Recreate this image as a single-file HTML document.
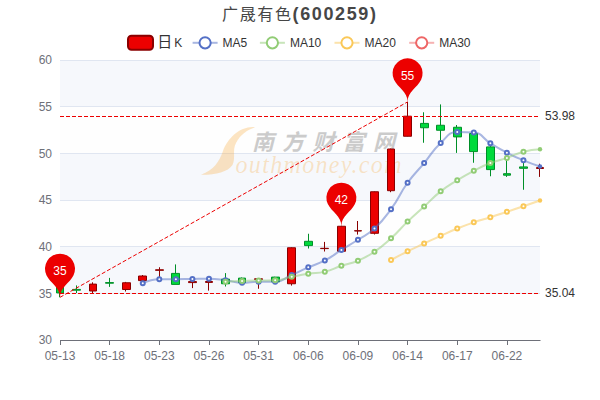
<!DOCTYPE html>
<html lang="zh"><head><meta charset="utf-8"><title>广晟有色(600259)</title>
<style>html,body{margin:0;padding:0;background:#fff}body{width:600px;height:400px;overflow:hidden;font-family:"Liberation Sans","Noto Sans CJK SC",sans-serif}svg{display:block}.t{font-family:"Liberation Sans","Noto Sans CJK SC",sans-serif}</style>
</head><body>
<svg width="600" height="400" viewBox="0 0 600 400">
<rect width="600" height="400" fill="#fff"/>
<g id="splitarea">
<rect x="60" y="293.33" width="480" height="46.67" fill="rgba(250,250,250,0.2)"/>
<rect x="60" y="246.67" width="480" height="46.67" fill="rgba(210,219,238,0.2)"/>
<rect x="60" y="200" width="480" height="46.67" fill="rgba(250,250,250,0.2)"/>
<rect x="60" y="153.33" width="480" height="46.67" fill="rgba(210,219,238,0.2)"/>
<rect x="60" y="106.67" width="480" height="46.67" fill="rgba(250,250,250,0.2)"/>
<rect x="60" y="60" width="480" height="46.67" fill="rgba(210,219,238,0.2)"/>
</g>
<g id="splitlines" stroke="#E0E6F1" stroke-width="1">
<line x1="60" y1="340.5" x2="540" y2="340.5"/>
<line x1="60" y1="293.5" x2="540" y2="293.5"/>
<line x1="60" y1="246.5" x2="540" y2="246.5"/>
<line x1="60" y1="200.5" x2="540" y2="200.5"/>
<line x1="60" y1="153.5" x2="540" y2="153.5"/>
<line x1="60" y1="106.5" x2="540" y2="106.5"/>
<line x1="60" y1="60.5" x2="540" y2="60.5"/>
</g>
<g id="watermark">
<path d="M255 127.2C240 126 228 138 223 151C219 162 214 170 201 174.8C215 175 228 172 232.5 165C236 158 232 150 236 143C240 135 247 130 255 127.2Z" fill="#f7a839" fill-opacity="0.3"/>
<g opacity="0.5"><text class="t" x="252" y="150" font-size="22" font-style="italic" font-weight="bold" textLength="143" lengthAdjust="spacing" fill="#9a9a9a">南方财富网</text></g>
<text transform="translate(235.5 172.6) scale(1 1.05)" x="0" y="0" font-family="Liberation Serif, serif" font-style="italic" font-size="24" textLength="166" lengthAdjust="spacing" fill="#f7a839" fill-opacity="0.28">outhmoney.com</text>
</g>
<g id="xaxis" stroke="#6E7079" stroke-width="1">
<line x1="60" y1="340.5" x2="540.5" y2="340.5"/>
<line x1="60.5" y1="340" x2="60.5" y2="345"/>
<line x1="109.5" y1="340" x2="109.5" y2="345"/>
<line x1="159.5" y1="340" x2="159.5" y2="345"/>
<line x1="209.5" y1="340" x2="209.5" y2="345"/>
<line x1="258.5" y1="340" x2="258.5" y2="345"/>
<line x1="308.5" y1="340" x2="308.5" y2="345"/>
<line x1="358.5" y1="340" x2="358.5" y2="345"/>
<line x1="407.5" y1="340" x2="407.5" y2="345"/>
<line x1="457.5" y1="340" x2="457.5" y2="345"/>
<line x1="507.5" y1="340" x2="507.5" y2="345"/>
</g>
<g id="xlabels" fill="#6E7079">
<text class="t" x="60" y="360" font-size="12" text-anchor="middle">05-13</text>
<text class="t" x="109.66" y="360" font-size="12" text-anchor="middle">05-18</text>
<text class="t" x="159.31" y="360" font-size="12" text-anchor="middle">05-23</text>
<text class="t" x="208.97" y="360" font-size="12" text-anchor="middle">05-26</text>
<text class="t" x="258.62" y="360" font-size="12" text-anchor="middle">05-31</text>
<text class="t" x="308.28" y="360" font-size="12" text-anchor="middle">06-06</text>
<text class="t" x="357.93" y="360" font-size="12" text-anchor="middle">06-09</text>
<text class="t" x="407.59" y="360" font-size="12" text-anchor="middle">06-14</text>
<text class="t" x="457.24" y="360" font-size="12" text-anchor="middle">06-17</text>
<text class="t" x="506.9" y="360" font-size="12" text-anchor="middle">06-22</text>
</g>
<g id="ylabels" fill="#6E7079">
<text class="t" x="52" y="344.2" font-size="12" text-anchor="end">30</text>
<text class="t" x="52" y="297.53" font-size="12" text-anchor="end">35</text>
<text class="t" x="52" y="250.87" font-size="12" text-anchor="end">40</text>
<text class="t" x="52" y="204.2" font-size="12" text-anchor="end">45</text>
<text class="t" x="52" y="157.53" font-size="12" text-anchor="end">50</text>
<text class="t" x="52" y="110.87" font-size="12" text-anchor="end">55</text>
<text class="t" x="52" y="64.2" font-size="12" text-anchor="end">60</text>
</g>
<g id="candles" stroke-width="1">
<path d="M56.5 286.3 L63.5 286.3 L63.5 292.96 L56.5 292.96 ZM59.5 285 L59.5 286.3 M59.5 292.96 L59.5 297.3" fill="#00da3c" stroke="#008f28"/>
<path d="M72.5 289.4 L80.5 289.4 L80.5 290.2 L72.5 290.2 ZM76.5 285.4 L76.5 289.4 M76.5 290.2 L76.5 293" fill="#00da3c" stroke="#008f28"/>
<path d="M89.5 284.1 L96.5 284.1 L96.5 291 L89.5 291 ZM92.5 282.3 L92.5 284.1 M92.5 291 L92.5 293.1" fill="#ec0000" stroke="#8a0000"/>
<path d="M105.5 282.6 L113.5 282.6 L113.5 283.2 L105.5 283.2 ZM109.5 277.9 L109.5 282.6 M109.5 283.2 L109.5 286.9" fill="#00da3c" stroke="#008f28"/>
<path d="M122.5 282.75 L130.5 282.75 L130.5 289.5 L122.5 289.5 ZM125.5 281.9 L125.5 282.75 M125.5 289.5 L125.5 291.5" fill="#ec0000" stroke="#8a0000"/>
<path d="M138.5 276 L146.5 276 L146.5 280.6 L138.5 280.6 ZM142.5 275 L142.5 276 M142.5 280.6 L142.5 280.6" fill="#ec0000" stroke="#8a0000"/>
<path d="M155.5 269.8 L163.5 269.8 L163.5 270.3 L155.5 270.3 ZM159.5 267.25 L159.5 269.8 M159.5 270.3 L159.5 277" fill="#ec0000" stroke="#8a0000"/>
<path d="M171.5 273.4 L179.5 273.4 L179.5 284.4 L171.5 284.4 ZM175.5 264.4 L175.5 273.4 M175.5 284.4 L175.5 284.4" fill="#00da3c" stroke="#008f28"/>
<path d="M188.5 281.6 L196.5 281.6 L196.5 282.6 L188.5 282.6 ZM192.5 279 L192.5 281.6 M192.5 282.6 L192.5 288.1" fill="#ec0000" stroke="#8a0000"/>
<path d="M205.5 281.5 L212.5 281.5 L212.5 282.4 L205.5 282.4 ZM208.5 279.5 L208.5 281.5 M208.5 282.4 L208.5 290.6" fill="#ec0000" stroke="#8a0000"/>
<path d="M221.5 279.1 L229.5 279.1 L229.5 283.75 L221.5 283.75 ZM225.5 273.1 L225.5 279.1 M225.5 283.75 L225.5 286.5" fill="#00da3c" stroke="#008f28"/>
<path d="M238.5 278.1 L245.5 278.1 L245.5 282.75 L238.5 282.75 ZM241.5 277.5 L241.5 278.1 M241.5 282.75 L241.5 283.2" fill="#00da3c" stroke="#008f28"/>
<path d="M254.5 278.8 L262.5 278.8 L262.5 279.4 L254.5 279.4 ZM258.5 278 L258.5 278.8 M258.5 279.4 L258.5 288.75" fill="#ec0000" stroke="#8a0000"/>
<path d="M271.5 277.1 L279.5 277.1 L279.5 281.9 L271.5 281.9 ZM274.5 276.8 L274.5 277.1 M274.5 281.9 L274.5 282.3" fill="#00da3c" stroke="#008f28"/>
<path d="M287.5 247.75 L295.5 247.75 L295.5 283.75 L287.5 283.75 ZM291.5 247.3 L291.5 247.75 M291.5 283.75 L291.5 285.6" fill="#ec0000" stroke="#8a0000"/>
<path d="M304.5 241.3 L312.5 241.3 L312.5 245.6 L304.5 245.6 ZM308.5 233.75 L308.5 241.3 M308.5 245.6 L308.5 248.5" fill="#00da3c" stroke="#008f28"/>
<path d="M320.5 248.3 L328.5 248.3 L328.5 248.6 L320.5 248.6 ZM324.5 241.9 L324.5 248.3 M324.5 248.6 L324.5 251.5" fill="#ec0000" stroke="#8a0000"/>
<path d="M337.5 226.25 L345.5 226.25 L345.5 251.25 L337.5 251.25 ZM341.5 225.8 L341.5 226.25 M341.5 251.25 L341.5 251.6" fill="#ec0000" stroke="#8a0000"/>
<path d="M354.5 230.7 L361.5 230.7 L361.5 231 L354.5 231 ZM357.5 221 L357.5 230.7 M357.5 231 L357.5 234.6" fill="#ec0000" stroke="#8a0000"/>
<path d="M370.5 191.75 L378.5 191.75 L378.5 233.3 L370.5 233.3 ZM374.5 191.4 L374.5 191.75 M374.5 233.3 L374.5 234.5" fill="#ec0000" stroke="#8a0000"/>
<path d="M387.5 149 L394.5 149 L394.5 190.7 L387.5 190.7 ZM390.5 148.6 L390.5 149 M390.5 190.7 L390.5 192.2" fill="#ec0000" stroke="#8a0000"/>
<path d="M403.5 116.2 L411.5 116.2 L411.5 136.25 L403.5 136.25 ZM407.5 101.9 L407.5 116.2 M407.5 136.25 L407.5 136.5" fill="#ec0000" stroke="#8a0000"/>
<path d="M420.5 123.4 L428.5 123.4 L428.5 127.75 L420.5 127.75 ZM423.5 112.25 L423.5 123.4 M423.5 127.75 L423.5 142.75" fill="#00da3c" stroke="#008f28"/>
<path d="M436.5 125.25 L444.5 125.25 L444.5 130.25 L436.5 130.25 ZM440.5 104.4 L440.5 125.25 M440.5 130.25 L440.5 140.5" fill="#00da3c" stroke="#008f28"/>
<path d="M453.5 127.25 L461.5 127.25 L461.5 136.9 L453.5 136.9 ZM456.5 125 L456.5 127.25 M456.5 136.9 L456.5 152.9" fill="#00da3c" stroke="#008f28"/>
<path d="M469.5 133.5 L477.5 133.5 L477.5 151.6 L469.5 151.6 ZM473.5 131 L473.5 133.5 M473.5 151.6 L473.5 162.75" fill="#00da3c" stroke="#008f28"/>
<path d="M486.5 146.9 L494.5 146.9 L494.5 169.6 L486.5 169.6 ZM490.5 144 L490.5 146.9 M490.5 169.6 L490.5 176.25" fill="#00da3c" stroke="#008f28"/>
<path d="M503.5 173.7 L510.5 173.7 L510.5 175.2 L503.5 175.2 ZM506.5 159.5 L506.5 173.7 M506.5 175.2 L506.5 176.9" fill="#00da3c" stroke="#008f28"/>
<path d="M519.5 166.9 L527.5 166.9 L527.5 168.3 L519.5 168.3 ZM523.5 161.5 L523.5 166.9 M523.5 168.3 L523.5 189.75" fill="#00da3c" stroke="#008f28"/>
<path d="M536.5 167.6 L543.5 167.6 L543.5 168.5 L536.5 168.5 ZM539.5 163.75 L539.5 167.6 M539.5 168.5 L539.5 176.9" fill="#ec0000" stroke="#8a0000"/>
</g>
<g id="ma5">
<path d="M142.76 283.25C142.76 283.25 150.91 279.17 159.31 279.17C167.46 279.17 167.59 279.23 175.86 279.23C184.14 279.23 184.14 279.05 192.41 278.91C200.69 278.77 200.71 278.66 208.97 278.66C217.26 278.66 217.27 279.18 225.52 280.21C233.83 281.25 233.75 282.8 242.07 282.8C250.3 282.8 250.34 281.68 258.62 281.68C266.89 281.68 267.21 281.74 275.17 281.74C283.77 281.74 283.53 278.55 291.72 274.99C300.08 271.36 299.93 271.02 308.28 267.36C316.48 263.76 316.92 264.63 324.83 260.47C333.47 255.93 333.07 255.17 341.38 249.96C349.62 244.79 349.76 245.01 357.93 239.72C366.32 234.29 367.2 235.23 374.48 228.52C383.75 219.97 383.6 219.48 391.03 209.2C400.15 196.61 398.52 195.41 407.59 182.78C415.07 172.35 415.91 172.97 424.14 163.08C432.46 153.07 431.3 151.8 440.69 142.99C447.85 136.27 448.22 132.02 457.24 132.02C464.77 132.02 466.23 132.02 473.79 132.54C482.79 133.16 481.94 138.1 490.34 143.22C498.49 148.18 498.43 148.34 506.9 152.71C514.98 156.89 515.04 156.83 523.45 160.32C531.59 163.7 540 166.46 540 166.46" fill="none" stroke="#5470c6" stroke-width="2" stroke-opacity="0.5" stroke-linejoin="bevel"/>
<circle cx="142.76" cy="283.25" r="2" fill="#fff" stroke="#5470c6" stroke-width="2"/>
<circle cx="159.31" cy="279.17" r="2" fill="#fff" stroke="#5470c6" stroke-width="2"/>
<circle cx="175.86" cy="279.23" r="2" fill="#fff" stroke="#5470c6" stroke-width="2"/>
<circle cx="192.41" cy="278.91" r="2" fill="#fff" stroke="#5470c6" stroke-width="2"/>
<circle cx="208.97" cy="278.66" r="2" fill="#fff" stroke="#5470c6" stroke-width="2"/>
<circle cx="225.52" cy="280.21" r="2" fill="#fff" stroke="#5470c6" stroke-width="2"/>
<circle cx="242.07" cy="282.8" r="2" fill="#fff" stroke="#5470c6" stroke-width="2"/>
<circle cx="258.62" cy="281.68" r="2" fill="#fff" stroke="#5470c6" stroke-width="2"/>
<circle cx="275.17" cy="281.74" r="2" fill="#fff" stroke="#5470c6" stroke-width="2"/>
<circle cx="291.72" cy="274.99" r="2" fill="#fff" stroke="#5470c6" stroke-width="2"/>
<circle cx="308.28" cy="267.36" r="2" fill="#fff" stroke="#5470c6" stroke-width="2"/>
<circle cx="324.83" cy="260.47" r="2" fill="#fff" stroke="#5470c6" stroke-width="2"/>
<circle cx="341.38" cy="249.96" r="2" fill="#fff" stroke="#5470c6" stroke-width="2"/>
<circle cx="357.93" cy="239.72" r="2" fill="#fff" stroke="#5470c6" stroke-width="2"/>
<circle cx="374.48" cy="228.52" r="2" fill="#fff" stroke="#5470c6" stroke-width="2"/>
<circle cx="391.03" cy="209.2" r="2" fill="#fff" stroke="#5470c6" stroke-width="2"/>
<circle cx="407.59" cy="182.78" r="2" fill="#fff" stroke="#5470c6" stroke-width="2"/>
<circle cx="424.14" cy="163.08" r="2" fill="#fff" stroke="#5470c6" stroke-width="2"/>
<circle cx="440.69" cy="142.99" r="2" fill="#fff" stroke="#5470c6" stroke-width="2"/>
<circle cx="457.24" cy="132.02" r="2" fill="#fff" stroke="#5470c6" stroke-width="2"/>
<circle cx="473.79" cy="132.54" r="2" fill="#fff" stroke="#5470c6" stroke-width="2"/>
<circle cx="490.34" cy="143.22" r="2" fill="#fff" stroke="#5470c6" stroke-width="2"/>
<circle cx="506.9" cy="152.71" r="2" fill="#fff" stroke="#5470c6" stroke-width="2"/>
<circle cx="523.45" cy="160.32" r="2" fill="#fff" stroke="#5470c6" stroke-width="2"/>
<circle cx="540" cy="166.46" r="2.2" fill="#5470c6"/>
</g>
<g id="ma10">
<path d="M225.52 281.73C225.52 281.73 233.79 281.3 242.07 280.99C250.34 280.67 250.34 280.59 258.62 280.46C266.89 280.32 266.99 280.46 275.17 280.32C283.54 280.19 283.43 278.46 291.72 276.82C299.98 275.19 299.97 275.09 308.28 273.78C316.52 272.49 316.76 273.58 324.83 271.63C333.31 269.59 333.05 268.56 341.38 265.82C349.6 263.11 350 264.1 357.93 260.73C366.55 257.07 366.72 257.02 374.48 251.76C383.28 245.79 383.15 245.45 391.03 238.28C399.7 230.39 399.12 229.75 407.59 221.62C415.67 213.87 415.87 214.08 424.14 206.52C432.42 198.95 431.92 198.31 440.69 191.35C448.47 185.18 448.78 185.51 457.24 180.27C465.33 175.27 465.36 175.27 473.79 170.87C481.91 166.63 481.84 166.34 490.34 163C498.39 159.85 498.71 160.7 506.9 157.9C515.26 155.03 514.94 153.88 523.45 151.66C531.49 149.55 540 149.24 540 149.24" fill="none" stroke="#91cc75" stroke-width="2" stroke-opacity="0.5" stroke-linejoin="bevel"/>
<circle cx="225.52" cy="281.73" r="2" fill="#fff" stroke="#91cc75" stroke-width="2"/>
<circle cx="242.07" cy="280.99" r="2" fill="#fff" stroke="#91cc75" stroke-width="2"/>
<circle cx="258.62" cy="280.46" r="2" fill="#fff" stroke="#91cc75" stroke-width="2"/>
<circle cx="275.17" cy="280.32" r="2" fill="#fff" stroke="#91cc75" stroke-width="2"/>
<circle cx="291.72" cy="276.82" r="2" fill="#fff" stroke="#91cc75" stroke-width="2"/>
<circle cx="308.28" cy="273.78" r="2" fill="#fff" stroke="#91cc75" stroke-width="2"/>
<circle cx="324.83" cy="271.63" r="2" fill="#fff" stroke="#91cc75" stroke-width="2"/>
<circle cx="341.38" cy="265.82" r="2" fill="#fff" stroke="#91cc75" stroke-width="2"/>
<circle cx="357.93" cy="260.73" r="2" fill="#fff" stroke="#91cc75" stroke-width="2"/>
<circle cx="374.48" cy="251.76" r="2" fill="#fff" stroke="#91cc75" stroke-width="2"/>
<circle cx="391.03" cy="238.28" r="2" fill="#fff" stroke="#91cc75" stroke-width="2"/>
<circle cx="407.59" cy="221.62" r="2" fill="#fff" stroke="#91cc75" stroke-width="2"/>
<circle cx="424.14" cy="206.52" r="2" fill="#fff" stroke="#91cc75" stroke-width="2"/>
<circle cx="440.69" cy="191.35" r="2" fill="#fff" stroke="#91cc75" stroke-width="2"/>
<circle cx="457.24" cy="180.27" r="2" fill="#fff" stroke="#91cc75" stroke-width="2"/>
<circle cx="473.79" cy="170.87" r="2" fill="#fff" stroke="#91cc75" stroke-width="2"/>
<circle cx="490.34" cy="163" r="2" fill="#fff" stroke="#91cc75" stroke-width="2"/>
<circle cx="506.9" cy="157.9" r="2" fill="#fff" stroke="#91cc75" stroke-width="2"/>
<circle cx="523.45" cy="151.66" r="2" fill="#fff" stroke="#91cc75" stroke-width="2"/>
<circle cx="540" cy="149.24" r="2.2" fill="#91cc75"/>
</g>
<g id="ma20">
<path d="M391.03 260C391.03 260 399.22 255.48 407.59 251.31C415.77 247.22 415.85 247.36 424.14 243.49C432.4 239.63 432.38 239.59 440.69 235.84C448.93 232.12 448.87 231.96 457.24 228.55C465.42 225.21 465.43 225.17 473.79 222.33C481.98 219.55 482.1 219.92 490.34 217.32C498.65 214.69 498.64 214.63 506.9 211.86C515.19 209.07 515.17 209.03 523.45 206.19C531.73 203.35 540 200.5 540 200.5" fill="none" stroke="#fac858" stroke-width="2" stroke-opacity="0.5" stroke-linejoin="bevel"/>
<circle cx="391.03" cy="260" r="2" fill="#fff" stroke="#fac858" stroke-width="2"/>
<circle cx="407.59" cy="251.31" r="2" fill="#fff" stroke="#fac858" stroke-width="2"/>
<circle cx="424.14" cy="243.49" r="2" fill="#fff" stroke="#fac858" stroke-width="2"/>
<circle cx="440.69" cy="235.84" r="2" fill="#fff" stroke="#fac858" stroke-width="2"/>
<circle cx="457.24" cy="228.55" r="2" fill="#fff" stroke="#fac858" stroke-width="2"/>
<circle cx="473.79" cy="222.33" r="2" fill="#fff" stroke="#fac858" stroke-width="2"/>
<circle cx="490.34" cy="217.32" r="2" fill="#fff" stroke="#fac858" stroke-width="2"/>
<circle cx="506.9" cy="211.86" r="2" fill="#fff" stroke="#fac858" stroke-width="2"/>
<circle cx="523.45" cy="206.19" r="2" fill="#fff" stroke="#fac858" stroke-width="2"/>
<circle cx="540" cy="200.5" r="2.2" fill="#fac858"/>
</g>
<g id="marklines" stroke="#ec0000" stroke-width="1" stroke-dasharray="4 2" fill="none">
<line x1="60" y1="297.3" x2="407.59" y2="101.9"/>
<line x1="60" y1="293.5" x2="540" y2="293.5"/>
<line x1="60" y1="116.5" x2="540" y2="116.5"/>
</g>
<g id="marklabels" fill="#333" stroke="#fff" stroke-width="2" paint-order="stroke" stroke-linejoin="round">
<text class="t" x="545" y="120.39" font-size="12">53.98</text>
<text class="t" x="545" y="297.16" font-size="12">35.04</text>
</g>
<g id="markpoints">
<path d="M394.03 79.76A15 15 0 1 1 421.14 79.76C417.28 87.89 407.59 91.4 407.59 101.9C407.59 91.4 397.89 87.89 394.03 79.76Z" fill="#ec0000"/>
<text class="t" x="407.59" y="79.7" font-size="12" text-anchor="middle" fill="#fff">55</text>
<path d="M46.45 275.16A15 15 0 1 1 73.55 275.16C69.7 283.29 60 286.8 60 297.3C60 286.8 50.3 283.29 46.45 275.16Z" fill="#ec0000"/>
<text class="t" x="60" y="275.1" font-size="12" text-anchor="middle" fill="#fff">35</text>
<path d="M327.83 204.11A15 15 0 1 1 354.93 204.11C351.07 212.24 341.38 215.75 341.38 226.25C341.38 215.75 331.68 212.24 327.83 204.11Z" fill="#ec0000"/>
<text class="t" x="341.38" y="204.05" font-size="12" text-anchor="middle" fill="#fff">42</text>
</g>
<g id="title" fill="#464646">
<text class="t" x="222" y="19.5" font-size="18" font-weight="bold" textLength="154" lengthAdjust="spacing"><tspan font-weight="normal" font-size="16">广晟有色</tspan>(600259)</text>
</g>
<g id="legend">
<rect x="128" y="35.8" width="25" height="14" rx="3.5" ry="3.5" fill="#ec0000" stroke="#8a0000" stroke-width="2"/>
<text class="t" x="157.3" y="46.9" font-size="15" fill="#333">日<tspan x="174.2" font-size="12">K</tspan></text>
<line x1="192.6" y1="42.8" x2="217.6" y2="42.8" stroke="#5470c6" stroke-width="2" stroke-opacity="0.5"/>
<circle cx="205.1" cy="42.8" r="5.6" fill="#fff" stroke="#5470c6" stroke-width="2"/>
<text class="t" x="222.6" y="46.9" font-size="12" fill="#333">MA5</text>
<line x1="259.9" y1="42.8" x2="284.9" y2="42.8" stroke="#91cc75" stroke-width="2" stroke-opacity="0.5"/>
<circle cx="272.4" cy="42.8" r="5.6" fill="#fff" stroke="#91cc75" stroke-width="2"/>
<text class="t" x="289.9" y="46.9" font-size="12" fill="#333">MA10</text>
<line x1="334.5" y1="42.8" x2="359.5" y2="42.8" stroke="#fac858" stroke-width="2" stroke-opacity="0.5"/>
<circle cx="347" cy="42.8" r="5.6" fill="#fff" stroke="#fac858" stroke-width="2"/>
<text class="t" x="364.5" y="46.9" font-size="12" fill="#333">MA20</text>
<line x1="409.2" y1="42.8" x2="434.2" y2="42.8" stroke="#ee6666" stroke-width="2" stroke-opacity="0.5"/>
<circle cx="421.7" cy="42.8" r="5.6" fill="#fff" stroke="#ee6666" stroke-width="2"/>
<text class="t" x="439.2" y="46.9" font-size="12" fill="#333">MA30</text>
</g>
</svg>
</body></html>
